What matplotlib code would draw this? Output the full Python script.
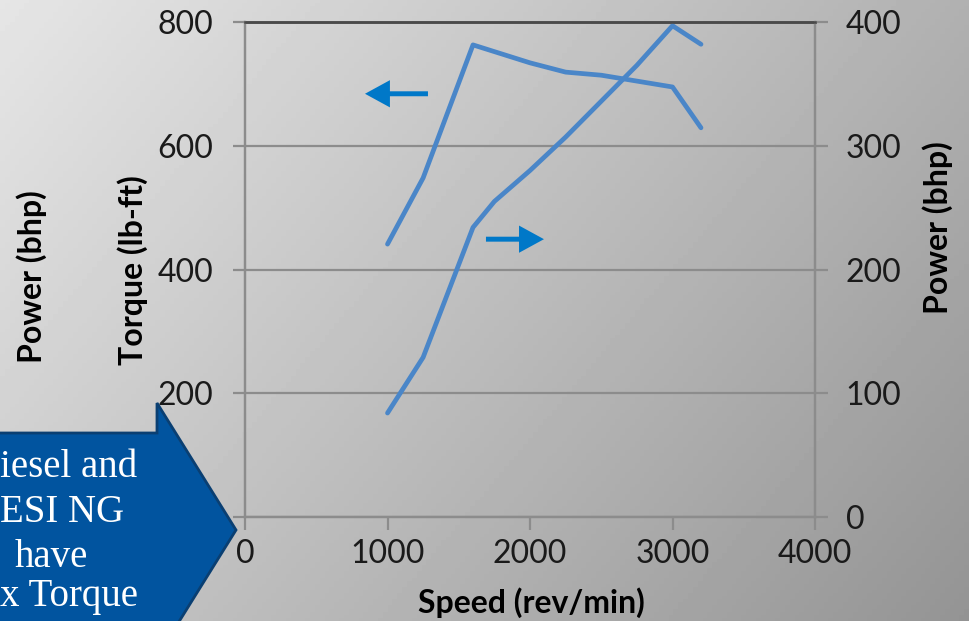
import numpy as np
import matplotlib
matplotlib.use("Agg")
import matplotlib.pyplot as plt
from matplotlib.patches import Polygon

# torque curve (left axis)
torque_speed = [1000, 1250, 1600, 2000, 2250, 2500, 3000, 3200]
torque = [441, 548, 763, 734, 719, 714, 695, 629]

# power curve (right axis)
power_speed = [1000, 1250, 1600, 1750, 2000, 2250, 2500, 2750, 3000, 3200]
power = [84, 129, 234, 255, 280, 307, 336, 365, 397, 382]

x_ticks = [0, 1000, 2000, 3000, 4000]
torque_ticks = [0, 200, 400, 600, 800]
power_ticks = [0, 100, 200, 300, 400]

callout_lines = ["iesel and", "ESI NG", "have", "x Torque"]

W, H = 969, 621
plt.rcParams['font.family'] = ['Lato', 'DejaVu Sans']
fig = plt.figure(figsize=(W / 100, H / 100), dpi=100)

# gray gradient background, light top-left to dark bottom-right
bg = fig.add_axes([0, 0, 1, 1], zorder=-10)
gx, gy = np.meshgrid(np.linspace(0, 1, 200), np.linspace(0, 1, 200))
grad = 0.90 - 0.32 * (0.65 * gx + 0.35 * gy)
bg.imshow(grad, cmap='gray', vmin=0, vmax=1, aspect='auto', extent=[0, 1, 1, 0])
bg.axis('off')

ax = fig.add_axes([245 / W, 1 - 517 / H, 570 / W, 495 / H])
ax.patch.set_alpha(0)
ax2 = ax.twinx()

line_col = '#4A86C8'
grid_col = '#8C8C8C'
ax.plot(torque_speed, torque, color=line_col, lw=3.4, solid_capstyle='round', solid_joinstyle='round')
ax2.plot(power_speed, power, color=line_col, lw=3.4, solid_capstyle='round', solid_joinstyle='round')

ax.set_xlim(0, 4000)
ax.set_ylim(0, 800)
ax2.set_ylim(0, 400)
ax.set_xticks(x_ticks)
ax.set_yticks(torque_ticks)
ax2.set_yticks(power_ticks)

ax.grid(axis='y', color=grid_col, lw=1.6)
ax.set_axisbelow(True)

for a in (ax, ax2):
    for s in ('left', 'right', 'bottom'):
        a.spines[s].set_color(grid_col)
        a.spines[s].set_linewidth(1.6)
    a.spines['top'].set_color('#4a4a4a')
    a.spines['top'].set_linewidth(1.8)

ax.tick_params(axis='y', length=9, width=1.6, color=grid_col, pad=14, labelsize=23, labelcolor='#1a1a1a')
ax.tick_params(axis='x', length=9, width=1.6, color=grid_col, pad=7, labelsize=23, labelcolor='#1a1a1a')
ax2.tick_params(axis='y', length=9, width=1.6, color=grid_col, pad=13, labelsize=23, labelcolor='#1a1a1a')

# direction arrows
arrow_col = '#0078C8'
ax.arrow(1284, 684, -442, 0, width=8, head_width=44, head_length=175,
         length_includes_head=True, color=arrow_col, lw=0)
ax.arrow(1691, 449, 407, 0, width=8, head_width=44, head_length=175,
         length_includes_head=True, color=arrow_col, lw=0)

fig.text(531 / W, 1 - 603 / H, 'Speed (rev/min)', ha='center', va='center', fontsize=23, fontweight='bold')
fig.text(133 / W, 1 - 270 / H, 'Torque (lb-ft)', ha='center', va='center', rotation=90, fontsize=23, fontweight='bold')
fig.text(32 / W, 1 - 277 / H, 'Power (bhp)', ha='center', va='center', rotation=90, fontsize=23, fontweight='bold')
fig.text(938 / W, 1 - 228 / H, 'Power (bhp)', ha='center', va='center', rotation=90, fontsize=23, fontweight='bold')

# callout shape in the lower left corner
pts = [(-5, 433), (157, 433), (157, 403), (236, 530), (157, 657), (-5, 657)]
poly = Polygon([(px / W, 1 - py / H) for px, py in pts], closed=True, transform=fig.transFigure,
               facecolor='#01549F', edgecolor='#0A3F72', lw=2, zorder=20)
fig.patches.append(poly)
text_x = [0, 0, 15, 0]
text_base = [477, 522, 567, 606]
for t, tx, ty in zip(callout_lines, text_x, text_base):
    fig.text(tx / W, 1 - ty / H, t, ha='left', va='baseline', color='white',
             fontsize=28, family=['Liberation Serif', 'DejaVu Serif'], zorder=21)

fig.savefig('out.png', dpi=100)
